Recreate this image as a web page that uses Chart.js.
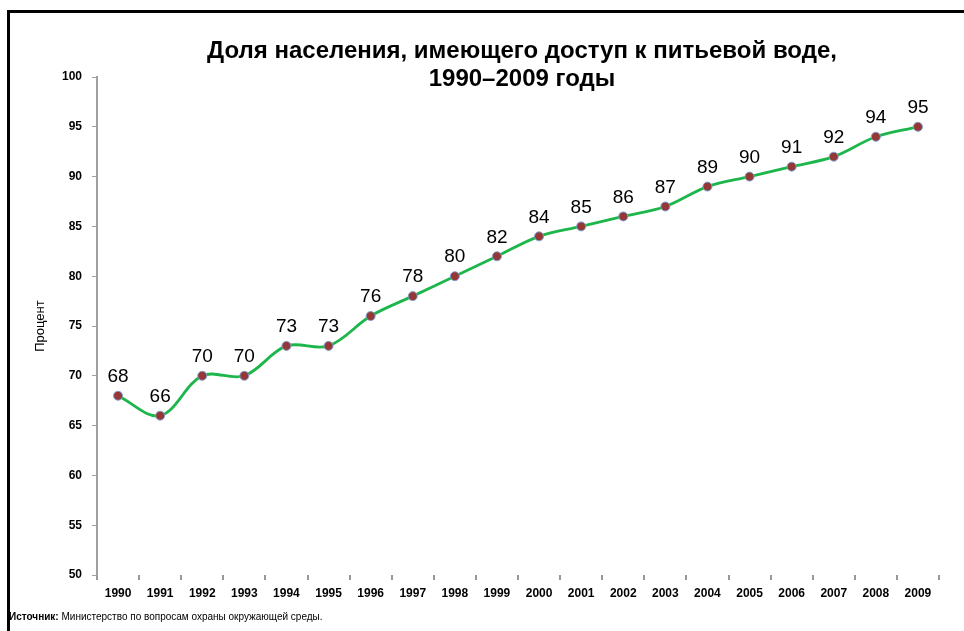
<!DOCTYPE html>
<html>
<head>
<meta charset="utf-8">
<script src="https://cdn.jsdelivr.net/npm/chart.js@4.4.1/dist/chart.umd.min.js"></script>
<style>
  html, body { margin: 0; padding: 0; background: #fff; overflow: hidden; }
  #wrap { position: relative; width: 964px; height: 631px; overflow: hidden; }
  #frame { position: absolute; left: 7px; top: 10px; width: 1000px; height: 700px; border: 3px solid #000; box-sizing: border-box; }
  #title { position: absolute; left: 172px; width: 700px; top: 36px; text-align: center;
           font: bold 24px "Liberation Sans", Arial, sans-serif; line-height: 28px; color: #000; white-space: nowrap; }
  #source { position: absolute; left: 9px; top: 611px; font: 10px "Liberation Sans Narrow", "Liberation Sans", Arial, sans-serif; color: #000; }
  canvas { position: absolute; left: 0; top: 0; }
</style>
</head>
<body>
<div id="wrap">
  <div id="frame"></div>
  <canvas id="chart" width="964" height="631"></canvas>
  <div id="title">Доля населения, имеющего доступ к питьевой воде,<br>1990–2009 годы</div>
  <div id="source"><b>Источник:</b> Министерство по вопросам охраны окружающей среды.</div>
</div>
<script>
const years = ['1990', '1991', '1992', '1993', '1994', '1995', '1996', '1997', '1998', '1999',
               '2000', '2001', '2002', '2003', '2004', '2005', '2006', '2007', '2008', '2009'];
const shareWithWater = [68, 66, 70, 70, 73, 73, 76, 78, 80, 82, 84, 85, 86, 87, 89, 90, 91, 92, 94, 95];
const yMin = 50;
const yMax = 100;
const yStep = 5;

// подписи значений над точками
const valueLabels = {
    id: 'valueLabels',
    afterDatasetsDraw(chart) {
        const ctx = chart.ctx;
        const meta = chart.getDatasetMeta(0);
        ctx.save();
        ctx.font = '19px "Liberation Sans", Arial, sans-serif';
        ctx.fillStyle = '#000';
        ctx.textAlign = 'center';
        ctx.textBaseline = 'middle';
        meta.data.forEach((pt, i) => {
            ctx.fillText(String(shareWithWater[i]), pt.x, pt.y - 19);
        });
        ctx.restore();
    }
};

new Chart(document.getElementById('chart').getContext('2d'), {
    type: 'line',
    data: {
        labels: years,
        datasets: [{
            data: shareWithWater,
            borderColor: '#1cb64b',
            borderWidth: 2.8,
            tension: 0.35,
            fill: false,
            pointRadius: 4.5,
            pointBackgroundColor: '#953735',
            pointBorderColor: '#7f9fd0',
            pointBorderWidth: 1
        }]
    },
    options: {
        responsive: false,
        animation: false,
        layout: { padding: { top: 77, left: 0, right: 25, bottom: 0 } },
        plugins: {
            legend: { display: false },
            tooltip: { enabled: false },
            title: { display: false }
        },
        scales: {
            x: {
                offset: true,
                afterFit(scale) { scale.height = 56; },
                border: { display: false },
                grid: { offset: true, drawOnChartArea: false, drawTicks: true, tickLength: 5, color: '#999', lineWidth: 2 },
                ticks: {
                    color: '#000',
                    padding: 6,
                    maxRotation: 0,
                    autoSkip: false,
                    font: { family: '"Liberation Sans", Arial, sans-serif', size: 12, weight: 'bold' }
                }
            },
            y: {
                min: yMin,
                max: yMax,
                afterFit(scale) { scale.width = 97; },
                border: { display: true, color: '#a0a0a0', width: 2 },
                grid: { drawOnChartArea: false, drawTicks: true, tickLength: 5, color: '#a0a0a0', lineWidth: 1 },
                ticks: {
                    stepSize: yStep,
                    color: '#000',
                    padding: 10,
                    font: { family: '"Liberation Sans", Arial, sans-serif', size: 12, weight: 'bold' }
                },
                title: {
                    display: true,
                    text: 'Процент',
                    color: '#000',
                    padding: { top: 33, bottom: 0 },
                    font: { family: '"Liberation Sans", Arial, sans-serif', size: 13, weight: 'normal' }
                }
            }
        }
    },
    plugins: [valueLabels]
});
</script>
</body>
</html>
